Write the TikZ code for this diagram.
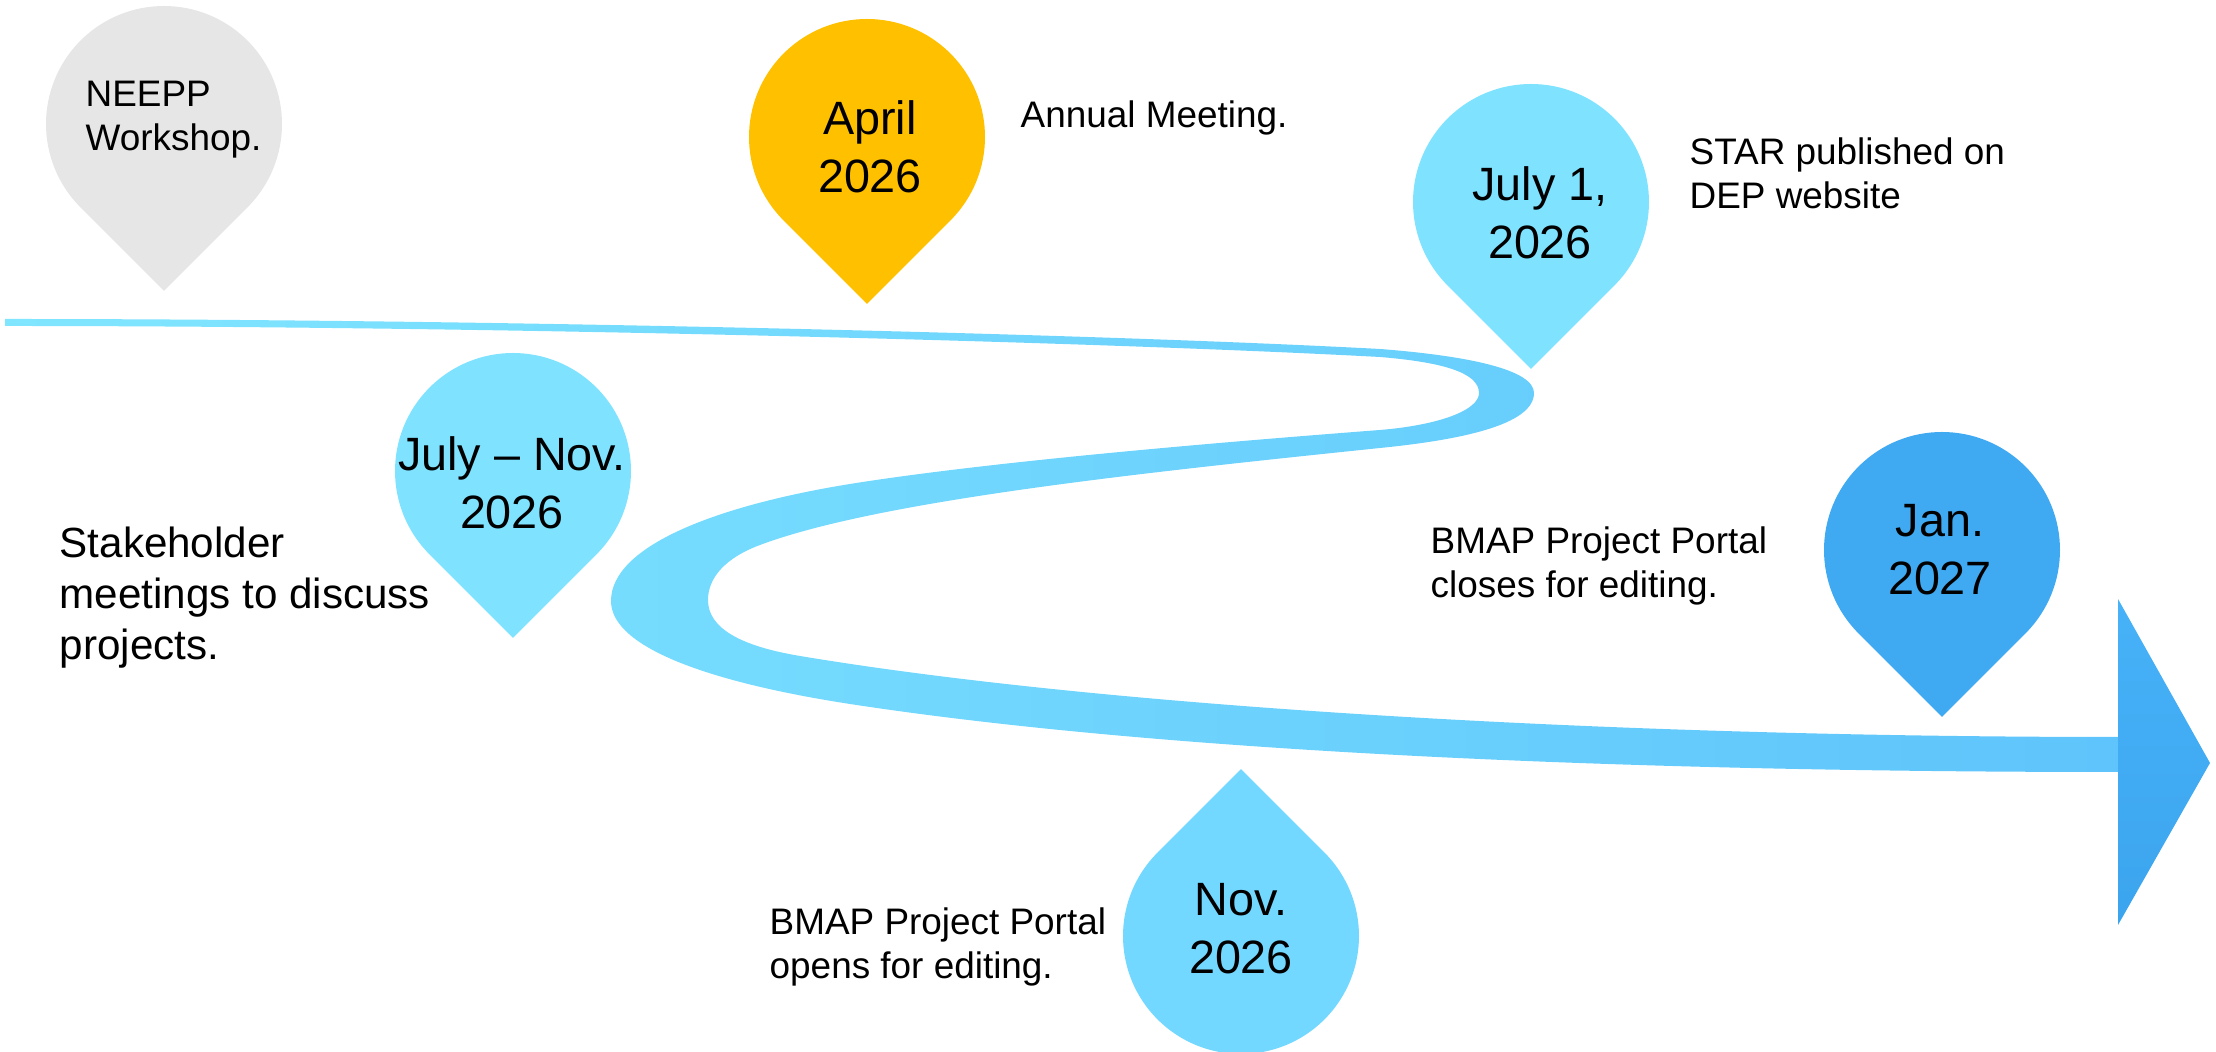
\documentclass[tikz,border=0pt]{standalone}
\usepackage{fontspec}
\setmainfont{Liberation Sans}
\usepackage{xcolor}
\definecolor{pingrey}{HTML}{E6E6E6}
\definecolor{pingold}{HTML}{FFC000}
\definecolor{pinlight}{HTML}{7FE3FF}
\definecolor{pinmid}{HTML}{73D8FF}
\definecolor{pindeep}{HTML}{3FA9F2}
\definecolor{ribbonL}{HTML}{80E6FF}
\definecolor{ribbonR}{HTML}{5EC4FB}
\definecolor{headT}{HTML}{47B2F8}
\definecolor{headB}{HTML}{3BA4EE}

\begin{document}
\begin{tikzpicture}[
  droppin/.pic={\path[pic actions] (-45:1.18) arc[start angle=-45, end angle=225, radius=1.18]
                -- (0,-1.669) -- cycle;},
  datetext/.style={font=\fontsize{13.3}{16.5}\selectfont, align=center, inner sep=0pt},
  note/.style={anchor=north west, font=\fontsize{10.5}{12.5}\selectfont, align=left, inner sep=0pt},
  bignote/.style={note, font=\fontsize{12}{14.5}\selectfont},
  ribbon/.style={left color=ribbonL, right color=ribbonR},
  arrowhd/.style={top color=headT, bottom color=headB}
]
\useasboundingbox (0,0) rectangle (22.16,-10.52);

%% ---- ROAD (ribbon + head) ----
\shade[ribbon] (0.05,-3.19)
  .. controls (5.00,-3.19) and (11.00,-3.34) .. (13.80,-3.49)
  .. controls (14.70,-3.56) and (15.34,-3.70) .. (15.34,-3.93)
  .. controls (15.34,-4.25) and (14.60,-4.40) .. (13.80,-4.48)
  .. controls (11.50,-4.72) and (8.80,-5.00) .. (7.60,-5.45)
  .. controls (7.25,-5.58) and (7.08,-5.78) .. (7.08,-6.00)
  .. controls (7.08,-6.28) and (7.40,-6.46) .. (8.00,-6.56)
  .. controls (11.00,-7.06) and (16.00,-7.37) .. (21.18,-7.37)
  -- (21.18,-7.72)
  .. controls (16.00,-7.72) and (11.50,-7.50) .. (8.50,-7.04)
  .. controls (7.20,-6.84) and (6.11,-6.50) .. (6.11,-6.01)
  .. controls (6.11,-5.45) and (7.20,-5.05) .. (8.50,-4.84)
  .. controls (10.00,-4.60) and (12.50,-4.40) .. (13.80,-4.30)
  .. controls (14.40,-4.25) and (14.79,-4.10) .. (14.79,-3.93)
  .. controls (14.79,-3.72) and (14.40,-3.62) .. (13.80,-3.57)
  .. controls (11.00,-3.42) and (5.00,-3.26) .. (0.05,-3.26)
  -- cycle;
\shade[arrowhd] (21.18,-5.99) -- (22.10,-7.63) -- (21.18,-9.25) -- cycle;

%% ---- PINS ----
\pic[fill=pingrey]  at (1.64,-1.24)  {droppin};
\pic[fill=pingold]  at (8.67,-1.37)  {droppin};
\pic[fill=pinlight] at (15.31,-2.02) {droppin};
\pic[fill=pinlight] at (5.13,-4.71)  {droppin};
\pic[fill=pinmid, rotate=180] at (12.41,-9.36) {droppin};
\pic[fill=pindeep]  at (19.42,-5.50) {droppin};

%% ---- Dates ----
\node[datetext] (april)   at (8.70,-1.465)  {April\\2026};
\node[datetext] (julyone) at (15.40,-2.125) {July 1,\\2026};
\node[datetext] (julynov) at (5.12,-4.825)  {July \textendash{} Nov.\\2026};
\node[datetext] (nov)     at (12.41,-9.285) {Nov.\\2026};
\node[datetext] (jan)     at (19.40,-5.50)  {Jan.\\2027};

%% ---- Notes ----
\node[note]    (neepp)  at (0.85,-0.80)  {NEEPP\\Workshop.};
\node[note]    (annual) at (10.20,-1.00) {Annual Meeting.};
\node[note]    (star)   at (16.89,-1.37) {STAR published on\\DEP website};
\node[note]    (closes) at (14.30,-5.26) {BMAP Project Portal\\closes for editing.};
\node[note]    (opens)  at (7.69,-9.07)  {BMAP Project Portal\\opens for editing.};
\node[bignote] (stake)  at (0.59,-5.26)  {Stakeholder\\meetings to discuss\\projects.};
\end{tikzpicture}
\end{document}
